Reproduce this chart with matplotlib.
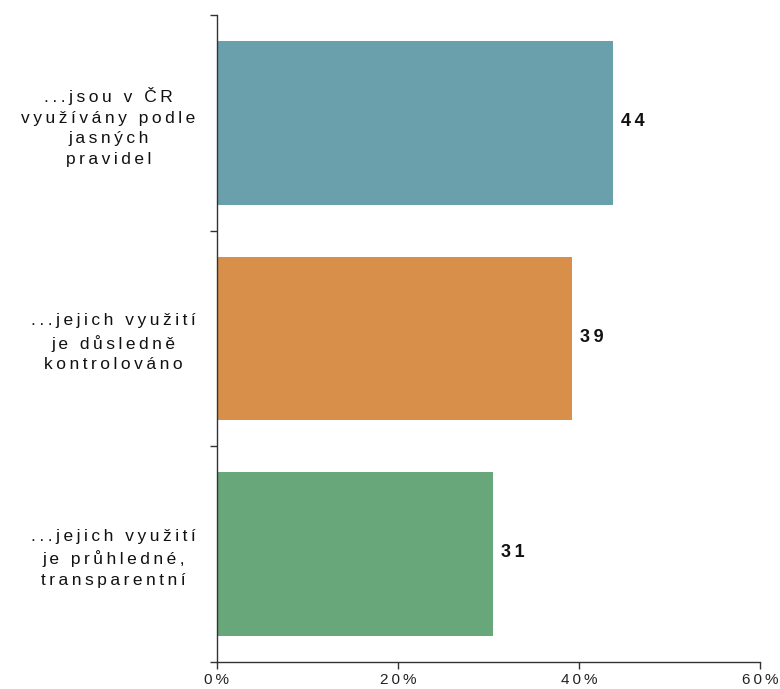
import matplotlib

matplotlib.use("Agg")
import matplotlib.pyplot as plt
from matplotlib.ticker import FixedLocator

categories = [
    "...jsou v ČR\nvyužívány podle\njasných\npravidel",
    "...jejich využití\nje důsledně\nkontrolováno",
    "...jejich využití\nje průhledné,\ntransparentní",
]
values = [43.7, 39.2, 30.5]
value_labels = ["44", "39", "31"]
colors = ["#6a9fac", "#d88f4a", "#68a779"]
x_ticks = [0, 20, 40, 60]
x_tick_labels = ["0%", "20%", "40%", "60%"]

plt.rcParams["font.family"] = ["Liberation Sans", "DejaVu Sans"]


def spaced(text, gap="\u2009"):
    # wide tracking like the original export
    return "\n".join(gap.join(line) for line in text.split("\n"))


fig = plt.figure(figsize=(7.8, 6.89), dpi=100)
ax = fig.add_axes([0.2776, 0.0392, 0.6971, 0.939])

y_pos = list(range(len(categories)))
ax.barh(y_pos, values, color=colors, height=0.76)

for y, v, lab in zip(y_pos, values, value_labels):
    ax.annotate(spaced(lab), (v, y), xytext=(6, 1), textcoords="offset points",
                va="center", ha="left", fontsize=13, fontweight="bold", color="#111111")

ax.set_ylim(2.5, -0.5)
ax.set_xlim(0, 60)

ax.set_yticks(y_pos)
ax.set_yticklabels([spaced(c) for c in categories], fontsize=12.5, ha="right",
                   multialignment="center", color="#111111", linespacing=1.45)
ax.yaxis.set_minor_locator(FixedLocator([-0.5, 0.5, 1.5, 2.5]))
ax.tick_params(axis="y", which="major", length=0, pad=15)
ax.tick_params(axis="y", which="minor", length=5, width=1, color="#333333")

ax.set_xticks(x_ticks)
ax.set_xticklabels([spaced(t) for t in x_tick_labels])
ax.tick_params(axis="x", length=5, width=1, color="#333333", labelsize=11,
               labelcolor="#222222", pad=3)

for side in ["top", "right"]:
    ax.spines[side].set_visible(False)
for side in ["left", "bottom"]:
    ax.spines[side].set_color("#333333")
    ax.spines[side].set_linewidth(1)

fig.savefig("out.png", dpi=100)
